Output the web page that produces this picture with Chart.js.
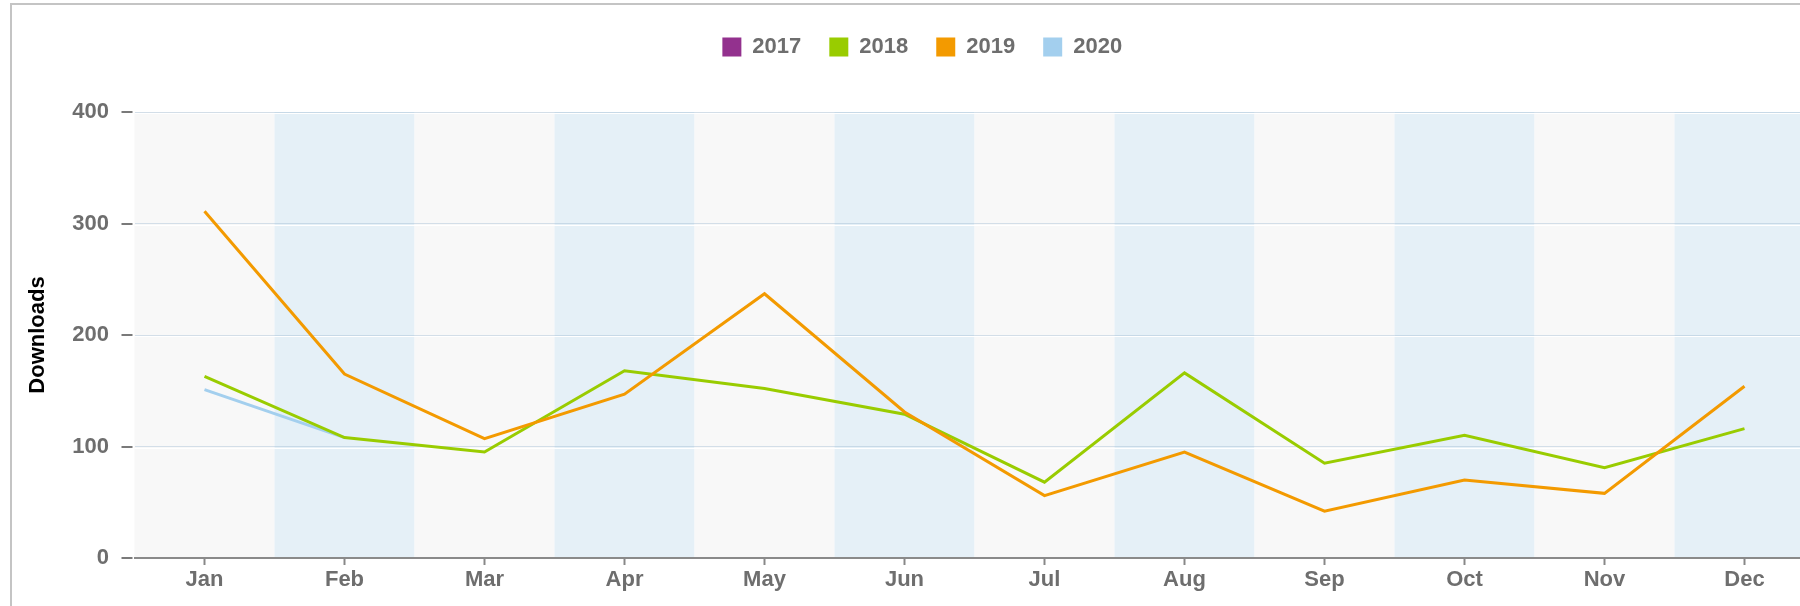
<!DOCTYPE html>
<html>
<head>
<meta charset="utf-8">
<script src="https://cdn.jsdelivr.net/npm/chart.js@4.4.1/dist/chart.umd.min.js"></script>
<style>
  html, body { margin: 0; padding: 0; background: #fff; overflow: hidden; }
  #frame { position: absolute; left: 10px; top: 3px; width: 1900px; height: 700px; border: 2px solid #c4c4c4; }
  #chart { display: block; }
</style>
</head>
<body>
<div id="frame"><canvas id="chart" width="1820" height="620"></canvas></div>
<script>
// data
const months = ['Jan', 'Feb', 'Mar', 'Apr', 'May', 'Jun', 'Jul', 'Aug', 'Sep', 'Oct', 'Nov', 'Dec'];
const years = ['2017', '2018', '2019', '2020'];
const downloads2017 = [null, null, null, null, null, null, null, null, null, null, null, null];
const downloads2018 = [163, 108, 95, 168, 152, 129, 68, 166, 85, 110, 81, 116];
const downloads2019 = [311, 165, 107, 147, 237, 131, 56, 95, 42, 70, 58, 154];
const downloads2020 = [151, 108, null, null, null, null, null, null, null, null, null, null];
const yTicks = [0, 100, 200, 300, 400];

const colors = ['#93318e', '#99cc00', '#f39a00', '#a3cfee'];
const series = [downloads2017, downloads2018, downloads2019, downloads2020];
const drawOrder = [3, 1, 0, 2]; // 2019 on top, then 2018, 2020

Chart.defaults.font.family = '"Liberation Sans", Arial, sans-serif';

// alternating column bands behind the lines
const bands = {
  id: 'bands',
  beforeDraw(chart) {
    const { ctx, chartArea, scales } = chart;
    const w = (chartArea.right - chartArea.left) / months.length;
    ctx.save();
    months.forEach((m, i) => {
      const cx = scales.x.getPixelForValue(i);
      ctx.fillStyle = i % 2 === 0 ? '#f8f8f8' : '#e5f0f7';
      ctx.fillRect(cx - w / 2, chartArea.top, w, chartArea.bottom - chartArea.top);
    });
    ctx.restore();
  },
  beforeDatasetsDraw(chart) {
    const { ctx, chartArea, scales } = chart;
    ctx.save();
    yTicks.forEach(v => {
      const y = Math.round(scales.y.getPixelForValue(v));
      // white highlight under each grid line
      if (v > 0) {
        ctx.fillStyle = '#ffffff';
        ctx.fillRect(chartArea.left, y + 1, chartArea.right - chartArea.left, 1);
      }
      // short tick marks left of the plot
      ctx.fillStyle = '#7a7a7a';
      ctx.fillRect(chartArea.left - 13, y - 1, 11, 2);
    });
    ctx.restore();
  }
};

// extra room between legend and plot
const legendGap = {
  id: 'legendGap',
  beforeLayout(chart) {
    const lg = chart.legend;
    if (lg && !lg._gapPatched) {
      const fit = lg.fit;
      lg.fit = function () { fit.call(this); this.height += 44; };
      lg._gapPatched = true;
    }
  }
};

new Chart(document.getElementById('chart'), {
  type: 'line',
  data: {
    labels: months,
    datasets: years.map((y, i) => ({
      label: y,
      data: series[i],
      borderColor: colors[i],
      backgroundColor: colors[i],
      borderWidth: 3,
      pointRadius: 0,
      tension: 0,
      order: drawOrder[i]
    }))
  },
  options: {
    responsive: false,
    animation: false,
    layout: { padding: { top: 3, left: 18, right: 17.5, bottom: 0 } },
    plugins: {
      tooltip: { enabled: false },
      legend: {
        position: 'top',
        labels: {
          boxWidth: 19,
          boxHeight: 19,
          padding: 28,
          color: '#6e6e6e',
          font: { size: 22, weight: 'bold' },
          generateLabels(chart) {
            const items = Chart.defaults.plugins.legend.labels.generateLabels(chart);
            items.sort((a, b) => a.datasetIndex - b.datasetIndex);
            return items.map(it => Object.assign(it, { lineWidth: 0 }));
          }
        }
      }
    },
    scales: {
      x: {
        offset: true,
        afterFit(scale) { scale.height = 67; },
        grid: {
          offset: false,
          drawOnChartArea: false,
          drawTicks: true,
          tickLength: 7,
          tickWidth: 2,
          tickColor: '#888'
        },
        border: { display: true, color: '#8a8a8a', width: 2 },
        ticks: {
          padding: 2,
          color: '#6e6e6e',
          font: { size: 22, weight: 'bold' },
          maxRotation: 0
        }
      },
      y: {
        min: 0,
        max: 400,
        afterFit(scale) { scale.width = 104.5; },
        grid: {
          color: 'rgba(150, 178, 205, 0.38)',
          lineWidth: 1,
          drawTicks: false
        },
        border: { display: false },
        ticks: {
          stepSize: 100,
          padding: 25.5,
          color: '#6e6e6e',
          font: { size: 22, weight: 'bold' }
        },
        title: {
          display: true,
          text: 'Downloads',
          color: '#000',
          padding: 0,
          font: { size: 22, weight: 'bold', lineHeight: 0.72 }
        }
      }
    }
  },
  plugins: [bands, legendGap]
});
</script>
</body>
</html>
